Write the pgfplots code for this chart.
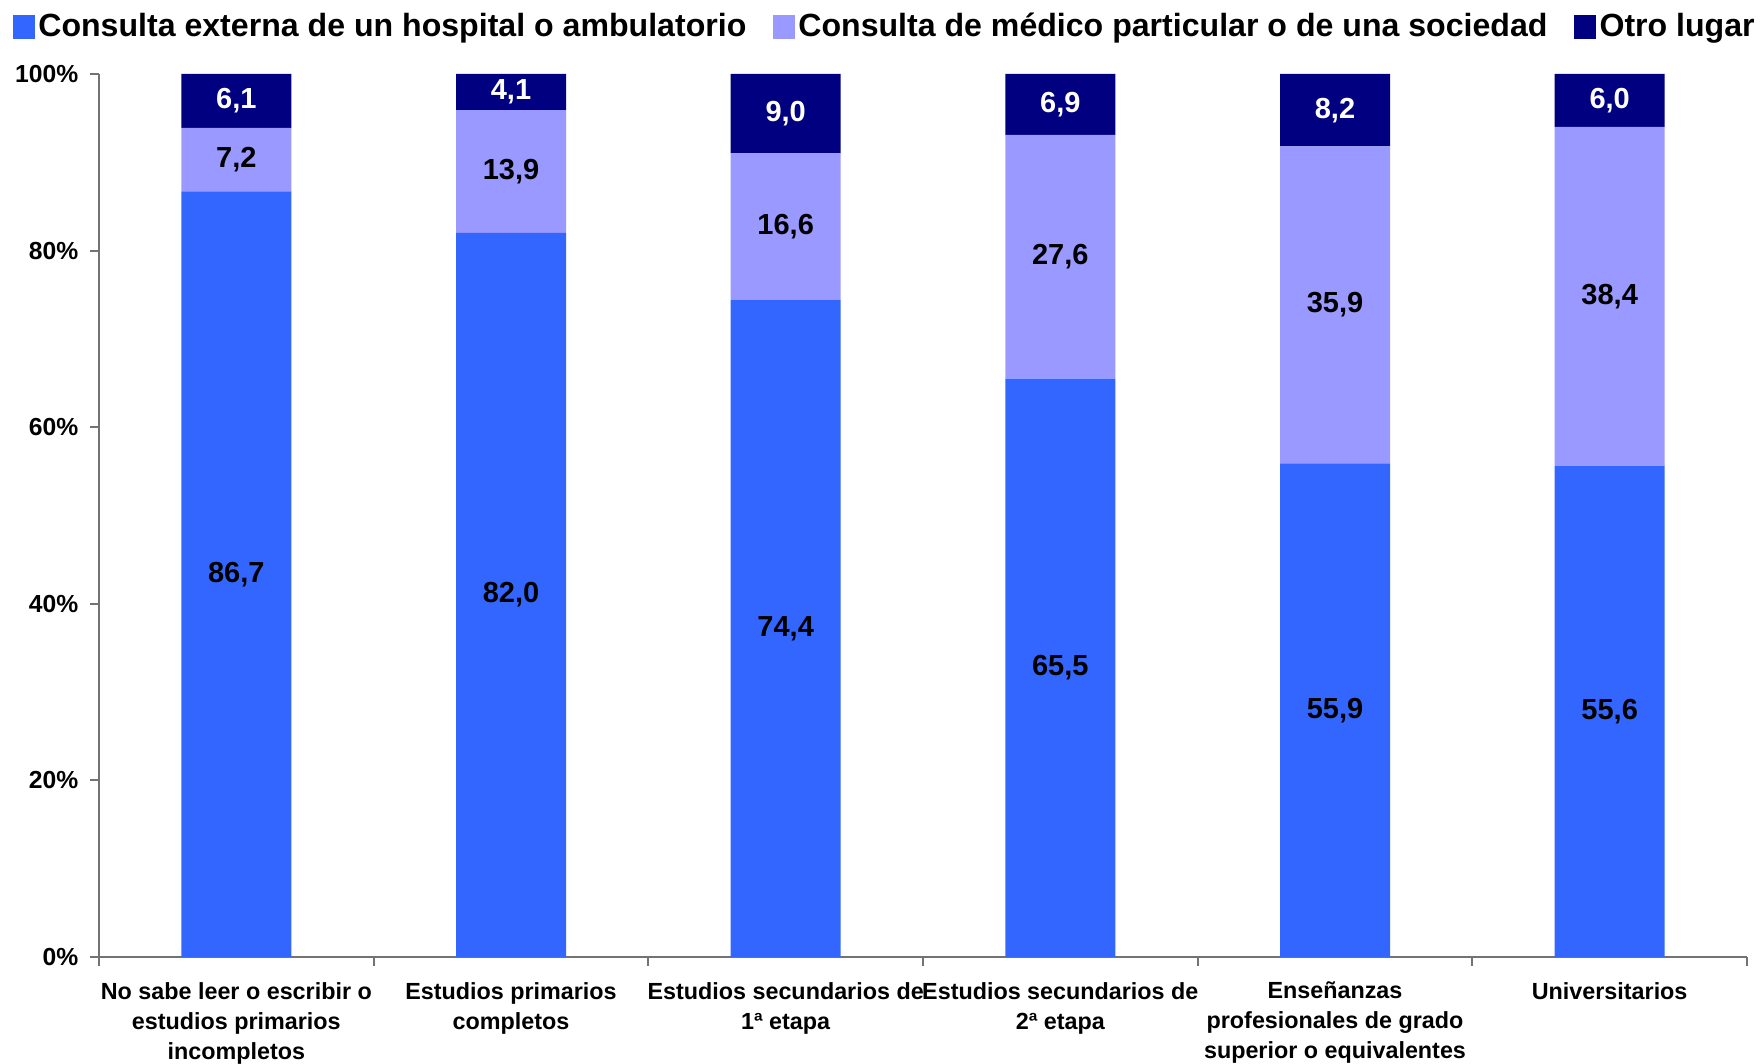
\documentclass[border=0pt]{standalone}
\usepackage{fontspec}
\setmainfont{Liberation Sans}
\usepackage{pgfplots}
\usepackage{pgfplotstable}
\pgfplotsset{compat=1.18}

\definecolor{hosp}{HTML}{3366FF}
\definecolor{priv}{HTML}{9999FF}
\definecolor{otro}{HTML}{000080}

% lugar de la consulta (%), por nivel de estudios
\pgfplotstableread{
x hosp priv otro
0 86.7 7.2  6.1
1 82.0 13.9 4.1
2 74.4 16.6 9.0
3 65.5 27.6 6.9
4 55.9 35.9 8.2
5 55.6 38.4 6.0
}\datos

\begin{document}
\begin{tikzpicture}
\begin{axis}[
    ybar stacked,
    x=82.4pt, y=2.649pt,
    bar width=33pt,
    xmin=-0.5, xmax=5.5,
    ymin=0, ymax=100,
    axis x line*=bottom,
    axis y line*=left,
    axis line style={draw=black!55, line width=0.6pt},
    tick style={draw=black!55, line width=0.6pt},
    tick align=outside,
    major tick length=2.7pt,
    xtick={-0.5,0.5,1.5,2.5,3.5,4.5,5.5},
    x tick label as interval,
    xticklabels={
        {No sabe leer o escribir o\\estudios primarios\\incompletos},
        {Estudios primarios\\completos},
        {Estudios secundarios de\\1ª etapa},
        {Estudios secundarios de\\2ª etapa},
        {Enseñanzas\\profesionales de grado\\superior o equivalentes},
        {Universitarios}
    },
    xticklabel style={font=\bfseries\fontsize{7}{9}\selectfont, align=center, yshift=-1.3pt},
    ytick={0,20,40,60,80,100},
    yticklabel={\pgfmathprintnumber[fixed,precision=0,assume math mode=true]{\tick}\%},
    yticklabel style={font=\bfseries\fontsize{7.4}{8}\selectfont},
    nodes near coords={\pgfmathprintnumber[fixed,fixed zerofill,precision=1,use comma,assume math mode=true]{\pgfplotspointmeta}},
    every node near coord/.append style={font=\bfseries\fontsize{8.7}{10}\selectfont, anchor=center},
    legend columns=-1,
    legend style={at={(rel axis cs:0,1)}, anchor=west, xshift=-26.1pt, yshift=14.1pt,
        draw=none, fill=none, inner sep=0pt,
        font=\bfseries\fontsize{9.63}{11}\selectfont,
        nodes={inner xsep=1.1pt, inner ysep=1pt},
        /tikz/every even column/.append style={column sep=6.8pt}},
    legend image code/.code={\path[#1, draw=none] (0pt,-3.6pt) rectangle (6.6pt,3.6pt);},
]
\addplot[fill=hosp, draw=none, point meta=\thisrow{hosp}]
    table[x=x, y=hosp]{\datos};
\addplot[fill=priv, draw=none, point meta=\thisrow{priv}]
    table[x=x, y=priv]{\datos};
\addplot[fill=otro, draw=none, point meta=\thisrow{otro},
    every node near coord/.append style={text=white}]
    table[x=x, y=otro]{\datos};
\legend{Consulta externa de un hospital o ambulatorio,
    Consulta de médico particular o de una sociedad,
    Otro lugar}
\coordinate (bl) at (rel axis cs:0,0);
\coordinate (tr) at (rel axis cs:1,1);
\end{axis}
\pgfresetboundingbox
\path[use as bounding box] ([xshift=-29.7pt,yshift=-32.1pt]bl) rectangle ([xshift=5.1pt,yshift=22.2pt]tr);
\end{tikzpicture}
\end{document}
